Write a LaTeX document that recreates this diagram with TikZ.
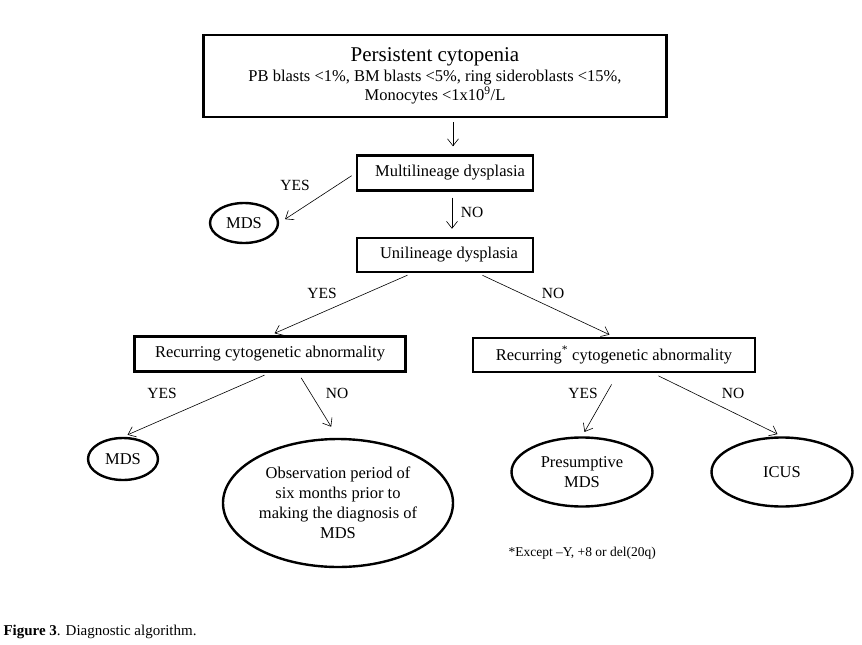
\documentclass[tikz,border=0pt]{standalone}
\usepackage{fontspec}
\setmainfont{Liberation Serif}
\usetikzlibrary{shapes.geometric,arrows.meta}

\begin{document}
\begin{tikzpicture}[x=1pt,y=-1pt,
    box/.style={draw, line width=2.4pt, inner sep=0pt, font=\fontsize{16.5}{19}\selectfont},
    oval/.style={draw, ellipse, line width=2.4pt, inner sep=0pt, align=center, font=\fontsize{16.5}{20}\selectfont},
    arr/.style={-{Straight Barb[length=7pt,width=11pt]}, line width=0.6pt},
    lbl/.style={font=\fontsize{15.5}{18}\selectfont}]
  \fill[white] (0,0) rectangle (862,645);
  \useasboundingbox (0,0) rectangle (862,645);
  % boxes
  \node[box, minimum width=463pt, minimum height=82pt, align=center] (top) at (435,76)
    {{\fontsize{21}{24}\selectfont Persistent cytopenia}\\[1pt]
     PB blasts <1\%, BM blasts <5\%, ring sideroblasts <15\%,\\
     Monocytes <1x10\textsuperscript{9}/L};
  \node[box, minimum width=176pt, minimum height=35pt] (multi) at (445,173) {\hspace{10pt}Multilineage dysplasia};
  \node[box, minimum width=176pt, minimum height=34pt] (uni) at (445,255) {\hspace{8pt}Unilineage dysplasia};
  \node[box, minimum width=271pt, minimum height=35pt] (rcl) at (270,354) {Recurring cytogenetic abnormality};
  \node[box, minimum width=282pt, minimum height=34pt] (rcr) at (614,355) {Recurring\textsuperscript{*} cytogenetic abnormality};
  % end points
  \node[oval, minimum width=68pt, minimum height=40pt] (mdsa) at (244,223) {MDS};
  \node[oval, minimum width=70pt, minimum height=42pt] (mdsb) at (123,459) {MDS};
  \node[oval, minimum width=230pt, minimum height=128pt] (obs) at (338,503)
    {Observation period of\\ six months prior to\\ making the diagnosis of\\ MDS};
  \node[oval, minimum width=141pt, minimum height=69pt] (pres) at (582,472) {Presumptive\\ MDS};
  \node[oval, minimum width=141pt, minimum height=69pt] (icus) at (782,472) {ICUS};
  % connectors
  \draw[arr, shorten <=4pt, shorten >=8pt] ([xshift=8pt]multi.north |- top.south) -- ([xshift=8pt]multi.north);
  \draw[arr, shorten <=5pt, shorten >=7pt] (multi.west) -- (mdsa.east);
  \draw[arr, shorten <=6pt, shorten >=8pt] ([xshift=7pt]multi.south) -- ([xshift=7pt]uni.north);
  \draw[arr, shorten <=5pt, shorten >=5pt] ([xshift=-33pt]uni.south) -- (rcl.north);
  \draw[arr, shorten <=5pt, shorten >=5pt] ([xshift=33pt]uni.south) -- (rcr.north);
  \draw[arr, shorten <=6pt, shorten >=5pt] (rcl.south) -- (mdsb.north);
  \draw[arr, shorten <=6pt, shorten >=13pt] ([xshift=28pt]rcl.south) -- (obs.north);
  \draw[arr, shorten <=13pt, shorten >=5pt] ([xshift=4pt]rcr.south) -- (pres.north);
  \draw[arr, shorten <=6pt, shorten >=5pt] ([xshift=39pt]rcr.south) -- (icus.north);
  % branch labels
  \node[lbl] (ya) at (295,185) {YES};
  \node[lbl] (na) at (472,212) {NO};
  \node[lbl] (yb) at (322,293) {YES};
  \node[lbl] (nb) at (553,293) {NO};
  \node[lbl] (yc) at (162,393) {YES};
  \node[lbl] (nc) at (337,393) {NO};
  \node[lbl] (yd) at (583,393) {YES};
  \node[lbl] (nd) at (733,393) {NO};
  % footnote and caption
  \node[anchor=west, font=\fontsize{13.5}{16}\selectfont] (note) at (505,553) {*Except --Y, +8 or del(20q)};
  \node[anchor=west, font=\fontsize{15}{18}\selectfont] (cap) at (0,632) {\textbf{Figure 3}. Diagnostic algorithm.};
\end{tikzpicture}
\end{document}
